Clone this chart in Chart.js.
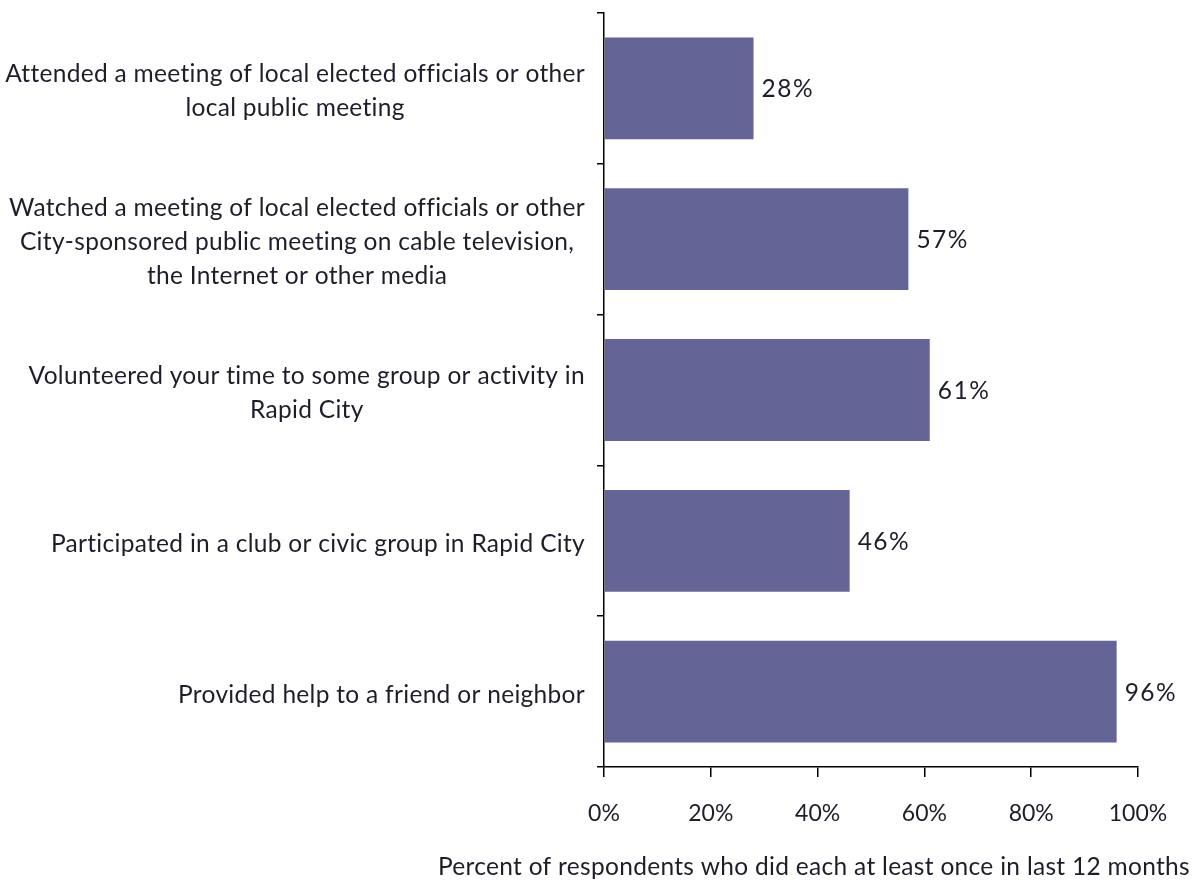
<!DOCTYPE html>
<html>
<head>
<meta charset="utf-8">
<script src="https://cdn.jsdelivr.net/npm/chart.js@4"></script>
<style>
  html, body { margin: 0; padding: 0; background: #fff; }
  #wrap { width: 1195px; height: 882px; }
</style>
</head>
<body>
<div id="wrap"><canvas id="civicChart" width="1195" height="882"></canvas></div>
<script>
// Activity labels, one array entry per line of text
const activities = [
    ['Attended a meeting of local elected officials or other', 'local public meeting'],
    ['Watched a meeting of local elected officials or other', 'City-sponsored public meeting on cable television,', 'the Internet or other media'],
    ['Volunteered your time to some group or activity in', 'Rapid City'],
    ['Participated in a club or civic group in Rapid City'],
    ['Provided help to a friend or neighbor']
];
const percentDone = [28, 57, 61, 46, 96];
const axisTicks = [0, 20, 40, 60, 80, 100];
const axisTitle = 'Percent of respondents who did each at least once in last 12 months';

const FONT = 'Lato, "Open Sans", sans-serif';
const TEXT_COLOR = '#1e1e2a';

// Category labels: block right-aligned against the axis, lines centred inside the block,
// plus value labels at the bar ends and the axis title
const labelPlugin = {
    id: 'labelPlugin',
    afterDraw(chart) {
        const ctx = chart.ctx;
        const yScale = chart.scales.y;
        ctx.save();
        ctx.fillStyle = TEXT_COLOR;
        ctx.font = '24.5px ' + FONT;
        ctx.letterSpacing = '0.3px';
        ctx.textBaseline = 'middle';
        ctx.textAlign = 'center';
        const lineH = 34;
        const rightEdge = yScale.right - 19;
        activities.forEach(function(lines, i) {
            const cy = yScale.getPixelForTick(i) + 3;
            const blockW = Math.max.apply(null, lines.map(l => ctx.measureText(l).width));
            const cx = rightEdge - blockW / 2;
            lines.forEach(function(line, j) {
                ctx.fillText(line, cx, cy + (j - (lines.length - 1) / 2) * lineH);
            });
        });

        // value labels
        const meta = chart.getDatasetMeta(0);
        ctx.textAlign = 'left';
        ctx.letterSpacing = '1.5px';
        meta.data.forEach(function(bar, i) {
            ctx.fillText(percentDone[i] + '%', bar.x + 8, bar.y + 1);
        });

        // axis title
        ctx.letterSpacing = '0.3px';
        ctx.textAlign = 'right';
        ctx.fillText(axisTitle, 1190, 867);
        ctx.restore();
    }
};

document.addEventListener('DOMContentLoaded', function() {
    const ctx = document.getElementById('civicChart').getContext('2d');
    new Chart(ctx, {
        type: 'bar',
        data: {
            labels: activities.map(l => l.join(' ')),
            datasets: [{
                data: percentDone,
                backgroundColor: '#646496',
                borderWidth: 0,
                barPercentage: 0.675,
                categoryPercentage: 1
            }]
        },
        options: {
            indexAxis: 'y',
            responsive: false,
            animation: false,
            layout: { padding: { top: 13, right: 57, left: 0, bottom: 0 } },
            plugins: {
                legend: { display: false },
                tooltip: { enabled: false }
            },
            scales: {
                x: {
                    min: 0,
                    max: 100,
                    afterBuildTicks: function(scale) {
                        scale.ticks = axisTicks.map(v => ({ value: v }));
                    },
                    afterFit: function(scale) { scale.height = 115; },
                    grid: {
                        drawOnChartArea: false,
                        tickLength: 10,
                        color: '#000',
                        lineWidth: 1.5
                    },
                    border: { color: '#000', width: 1.5 },
                    ticks: {
                        padding: 23,
                        color: TEXT_COLOR,
                        font: { family: FONT, size: 23 },
                        callback: v => v + '%'
                    }
                },
                y: {
                    afterFit: function(scale) { scale.width = 604; },
                    grid: {
                        offset: true,
                        drawOnChartArea: false,
                        tickLength: 7,
                        color: '#000',
                        lineWidth: 1.5
                    },
                    border: { color: '#000', width: 1.5 },
                    ticks: { display: false }
                }
            }
        },
        plugins: [labelPlugin]
    });
});
</script>
</body>
</html>
